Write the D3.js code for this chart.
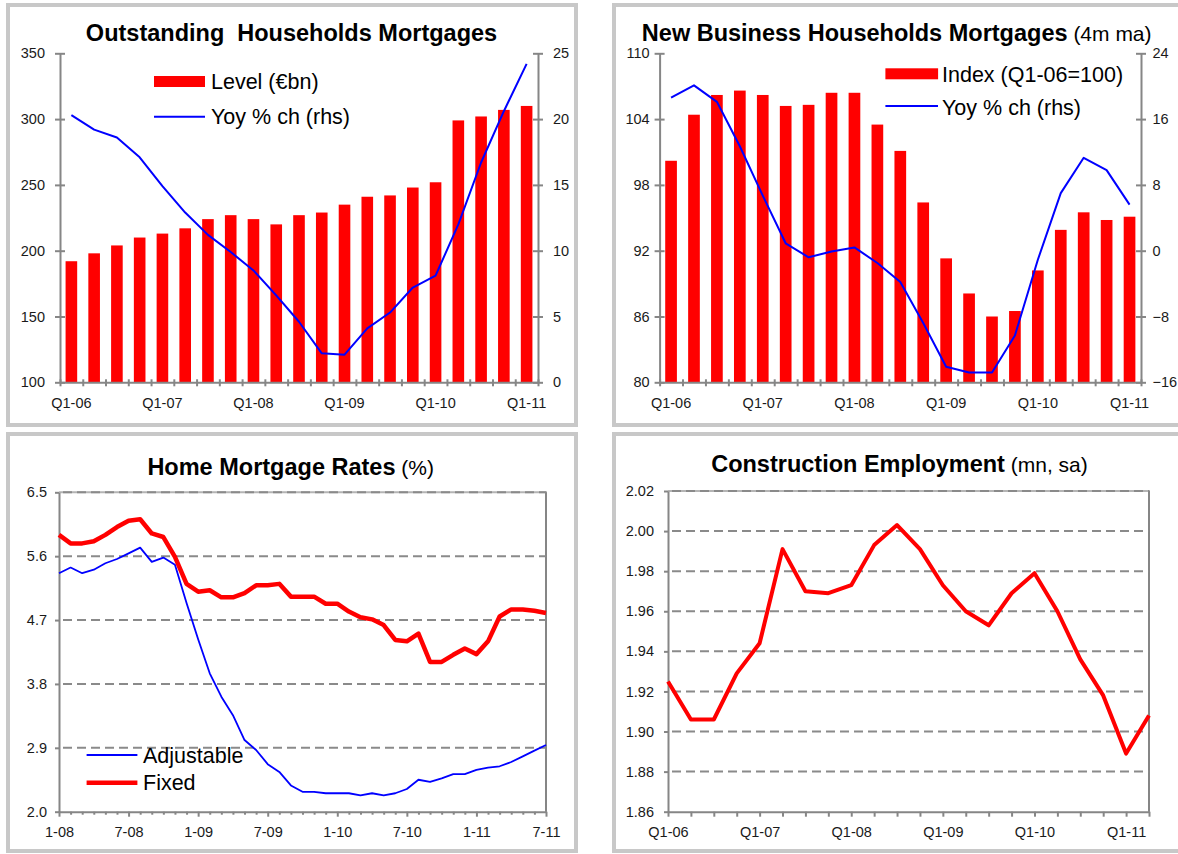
<!DOCTYPE html>
<html>
<head>
<meta charset="utf-8">
<script src="https://cdn.jsdelivr.net/npm/d3@7"></script>
<style>
  html, body { margin: 0; padding: 0; background: #fff; }
  svg { display: block; font-family: "Liberation Sans", Arial, sans-serif; }
  .tick text { fill: #1a1a1a; font-size: 14.5px; }
</style>
</head>
<body>
<svg id="chart" width="1178" height="854"></svg>
<script>
// ---- data ----
const quarters = ["Q1-06","Q2-06","Q3-06","Q4-06","Q1-07","Q2-07","Q3-07","Q4-07",
  "Q1-08","Q2-08","Q3-08","Q4-08","Q1-09","Q2-09","Q3-09","Q4-09",
  "Q1-10","Q2-10","Q3-10","Q4-10","Q1-11"];
const quarterLabels = ["Q1-06","Q1-07","Q1-08","Q1-09","Q1-10","Q1-11"];

// Outstanding households mortgages
const outstandingLevel = [192, 198, 204, 210, 213, 217, 224, 227, 224, 220, 227,
  229, 235, 241, 242, 248, 252, 299, 302, 307, 310];
const outstandingYoy = [20.3, 19.2, 18.6, 17.1, 14.9, 12.9, 11.2, 9.9, 8.5, 6.6, 4.6,
  2.2, 2.1, 4.1, 5.3, 7.2, 8.1, 12.0, 16.7, 20.6, 24.2];
const outstandingLeftTicks = [100, 150, 200, 250, 300, 350];
const outstandingRightTicks = [0, 5, 10, 15, 20, 25];

// New business households mortgages (4m ma)
const newBizIndex = [100.2, 104.4, 106.2, 106.6, 106.2, 105.2, 105.3, 106.4, 106.4,
  103.5, 101.1, 96.4, 91.3, 88.1, 86.0, 86.5, 90.2, 93.9, 95.5, 94.8, 95.1];
const newBizYoy = [18.6, 20.1, 18.1, 12.7, 6.7, 0.9, -0.8, -0.1, 0.4, -1.5, -3.8,
  -8.8, -14.1, -14.8, -14.8, -10.3, -1.1, 7.0, 11.3, 9.8, 5.6];
const newBizLeftTicks = [80, 86, 92, 98, 104, 110];
const newBizRightTicks = [-16, -8, 0, 8, 16, 24];

// Home mortgage rates (%), monthly
const months = ["1-08","2-08","3-08","4-08","5-08","6-08","7-08","8-08","9-08","10-08","11-08","12-08",
  "1-09","2-09","3-09","4-09","5-09","6-09","7-09","8-09","9-09","10-09","11-09","12-09",
  "1-10","2-10","3-10","4-10","5-10","6-10","7-10","8-10","9-10","10-10","11-10","12-10",
  "1-11","2-11","3-11","4-11","5-11","6-11","7-11"];
const monthLabels = ["1-08","7-08","1-09","7-09","1-10","7-10","1-11","7-11"];
const adjustableRate = [5.36, 5.44, 5.36, 5.41, 5.50, 5.56, 5.64, 5.72, 5.52, 5.58,
  5.48, 4.94, 4.43, 3.95, 3.62, 3.36, 3.01, 2.87, 2.67, 2.56,
  2.37, 2.28, 2.28, 2.26, 2.26, 2.26, 2.23, 2.26, 2.23, 2.26,
  2.32, 2.45, 2.42, 2.47, 2.53, 2.53, 2.59, 2.62, 2.64, 2.70,
  2.78, 2.86, 2.94];
const fixedRate = [5.90, 5.78, 5.78, 5.81, 5.90, 6.01, 6.10, 6.12, 5.92, 5.87,
  5.59, 5.21, 5.10, 5.12, 5.02, 5.02, 5.08, 5.19, 5.19, 5.21,
  5.03, 5.03, 5.03, 4.93, 4.93, 4.82, 4.74, 4.71, 4.63, 4.42,
  4.40, 4.51, 4.11, 4.11, 4.21, 4.30, 4.22, 4.40, 4.75, 4.85,
  4.85, 4.83, 4.80];
const rateTicks = [2.0, 2.9, 3.8, 4.7, 5.6, 6.5];

// Construction employment (mn, sa), quarterly
const constrQuarters = ["Q1-06","Q2-06","Q3-06","Q4-06","Q1-07","Q2-07","Q3-07","Q4-07",
  "Q1-08","Q2-08","Q3-08","Q4-08","Q1-09","Q2-09","Q3-09","Q4-09",
  "Q1-10","Q2-10","Q3-10","Q4-10","Q1-11","Q2-11"];
const employment = [1.925, 1.906, 1.906, 1.929, 1.944, 1.991, 1.970, 1.969, 1.973,
  1.993, 2.003, 1.991, 1.973, 1.960, 1.953, 1.969, 1.979, 1.960, 1.936, 1.918,
  1.889, 1.908];
const employmentTicks = [1.86, 1.88, 1.90, 1.92, 1.94, 1.96, 1.98, 2.00, 2.02];

// ---- drawing ----
const RED = "#ff0000", BLUE = "#0000ff", AXIS = "#868686", GRID = "#8a8a8a";
const TITLE_SIZE = 23.5, SUBTITLE_SIZE = 21, LEGEND_SIZE = 21.5;
const svg = d3.select("#chart");

function frame(x, y, w, h) {
  svg.append("rect").attr("x", x).attr("y", y).attr("width", w).attr("height", h)
    .attr("fill", "#fff").attr("stroke", "#c8c8c8").attr("stroke-width", 4);
}

function title(cx, y, bold, normal) {
  const t = svg.append("text").attr("x", cx).attr("y", y)
    .attr("text-anchor", "middle").attr("fill", "#000")
    .style("white-space", "pre");
  t.append("tspan").attr("font-weight", "bold").attr("font-size", TITLE_SIZE).text(bold);
  if (normal) t.append("tspan").attr("font-size", SUBTITLE_SIZE).text(" " + normal);
}

function styleAxis(g) {
  g.select(".domain").attr("stroke", AXIS).attr("stroke-width", 2);
  g.selectAll(".tick line").attr("stroke", AXIS).attr("stroke-width", 2);
}

function legendText(x, y, txt) {
  svg.append("text").attr("x", x).attr("y", y).attr("font-size", LEGEND_SIZE)
    .attr("fill", "#000").style("white-space", "pre").text(txt);
}

// Bar + line panel with a left (bars) and right (line) axis
function barLinePanel(opt) {
  const { x0, x1, yTop, yBot } = opt;
  const xBand = d3.scaleBand().domain(quarters).range([x0, x1])
    .paddingInner(0.49).paddingOuter(0.245);
  const xEdge = d3.scaleLinear().domain([0, quarters.length]).range([x0, x1]);
  const yL = d3.scaleLinear().domain(opt.leftDomain).range([yBot, yTop]);
  const yR = d3.scaleLinear().domain(opt.rightDomain).range([yBot, yTop]);

  svg.append("g").selectAll("rect").data(opt.bars).join("rect")
    .attr("x", (d, i) => xBand(quarters[i]))
    .attr("y", d => yL(d))
    .attr("width", xBand.bandwidth())
    .attr("height", d => yBot - yL(d))
    .attr("fill", RED);

  const line = d3.line()
    .x((d, i) => xBand(quarters[i]) + xBand.bandwidth() / 2)
    .y(d => yR(d));
  svg.append("path").datum(opt.line).attr("d", line)
    .attr("fill", "none").attr("stroke", BLUE).attr("stroke-width", 2)
    .attr("stroke-linejoin", "round");

  // left axis
  const gl = svg.append("g").attr("transform", `translate(${x0},0)`)
    .call(d3.axisLeft(yL).tickValues(opt.leftTicks).tickSizeInner(5).tickSizeOuter(0)
      .tickPadding(opt.leftPad));
  styleAxis(gl);
  gl.selectAll(".tick line").attr("x1", 5);
  // right axis
  const gr = svg.append("g").attr("transform", `translate(${x1},0)`)
    .call(d3.axisRight(yR).tickValues(opt.rightTicks).tickSizeInner(5).tickSizeOuter(0)
      .tickPadding(opt.rightPad));
  styleAxis(gr);
  gr.selectAll(".tick line").attr("x1", -5);
  // bottom axis: tick marks between categories
  const gb = svg.append("g").attr("transform", `translate(0,${yBot})`)
    .call(d3.axisBottom(xEdge).tickValues(d3.range(quarters.length + 1))
      .tickFormat("").tickSizeInner(4).tickSizeOuter(0));
  styleAxis(gb);
  gb.selectAll(".tick line").attr("y1", -3);
  // bottom labels
  const gx = svg.append("g").attr("transform", `translate(0,${yBot})`)
    .call(d3.axisBottom(xBand).tickValues(quarterLabels).tickSize(0).tickPadding(15));
  gx.select(".domain").remove();
}

// Panel 1
frame(8, 5, 568, 420);
title(291.5, 40.5, "Outstanding  Households Mortgages");
barLinePanel({
  x0: 60, x1: 538, yTop: 53.3, yBot: 382.3,
  leftDomain: [100, 350], rightDomain: [0, 25],
  leftTicks: outstandingLeftTicks, rightTicks: outstandingRightTicks,
  bars: outstandingLevel, line: outstandingYoy, leftPad: 10, rightPad: 10
});
svg.append("rect").attr("x", 154).attr("y", 76).attr("width", 51).attr("height", 11).attr("fill", RED);
legendText(211, 88.5, "Level (€bn)");
svg.append("line").attr("x1", 154).attr("x2", 205).attr("y1", 116.7).attr("y2", 116.7)
  .attr("stroke", BLUE).attr("stroke-width", 2);
legendText(211, 123.5, "Yoy % ch (rhs)");

// Panel 2
frame(614, 5, 600, 420);
title(896.7, 40.5, "New Business Households Mortgages", "(4m ma)");
barLinePanel({
  x0: 659.6, x1: 1141, yTop: 53.3, yBot: 382.3,
  leftDomain: [80, 110], rightDomain: [-16, 24],
  leftTicks: newBizLeftTicks, rightTicks: newBizRightTicks,
  bars: newBizIndex, line: newBizYoy, leftPad: 5, rightPad: 6.5
});
svg.append("rect").attr("x", 885.4).attr("y", 68.3).attr("width", 52.7).attr("height", 11).attr("fill", RED);
legendText(942, 81.7, "Index (Q1-06=100)");
svg.append("line").attr("x1", 885.4).attr("x2", 938).attr("y1", 106).attr("y2", 106)
  .attr("stroke", BLUE).attr("stroke-width", 2);
legendText(942, 114.5, "Yoy % ch (rhs)");

// Line panel with dashed horizontal gridlines
function linePanel(opt) {
  const { x0, x1, yTop, yBot } = opt;
  const x = d3.scalePoint().domain(opt.categories).range([x0, x1]);
  const y = d3.scaleLinear().domain(opt.yDomain).range([yBot, yTop]);

  // plot frame (top and right)
  svg.append("path").attr("d", `M${x0},${yTop}H${x1}V${yBot}`)
    .attr("fill", "none").attr("stroke", "#b4b4b4").attr("stroke-width", 2);
  svg.append("line").attr("x1", x1).attr("x2", x1).attr("y1", yTop).attr("y2", yBot)
    .attr("stroke", AXIS).attr("stroke-width", 2);
  // gridlines
  svg.append("g").selectAll("line").data(opt.yTicks.slice(1)).join("line")
    .attr("x1", x0 + 4).attr("x2", x1).attr("y1", d => y(d)).attr("y2", d => y(d))
    .attr("stroke", GRID).attr("stroke-width", 2).attr("stroke-dasharray", "9,5");

  const gl = svg.append("g").attr("transform", `translate(${x0},0)`)
    .call(d3.axisLeft(y).tickValues(opt.yTicks).tickFormat(d3.format(opt.fmt))
      .tickSizeInner(4).tickSizeOuter(0).tickPadding(opt.leftPad));
  styleAxis(gl);

  const gb = svg.append("g").attr("transform", `translate(0,${yBot})`)
    .call(d3.axisBottom(x).tickValues(opt.categories)
      .tickFormat(d => opt.labels.includes(d) ? d : "")
      .tickSizeInner(5).tickSizeOuter(0).tickPadding(10));
  styleAxis(gb);
  if (opt.minorShort) {
    gb.selectAll(".tick line").attr("y2", d => opt.labels.includes(d) ? 5 : 3);
  }

  opt.series.forEach(s => {
    const line = d3.line().x((d, i) => x(opt.categories[i])).y(d => y(d));
    svg.append("path").datum(s.values).attr("d", line)
      .attr("fill", "none").attr("stroke", s.color).attr("stroke-width", s.width)
      .attr("stroke-linejoin", "round");
  });
}

// Panel 3
frame(8, 434, 568, 417);
title(290.7, 475, "Home Mortgage Rates", "(%)");
linePanel({
  x0: 59, x1: 546, yTop: 492.3, yBot: 811.7,
  categories: months, labels: monthLabels, yDomain: [2.0, 6.5], yTicks: rateTicks,
  fmt: ".1f", leftPad: 8, minorShort: true,
  series: [
    { values: adjustableRate, color: BLUE, width: 1.8 },
    { values: fixedRate, color: RED, width: 4.5 }
  ]
});
svg.append("line").attr("x1", 86.6).attr("x2", 137.4).attr("y1", 755).attr("y2", 755)
  .attr("stroke", BLUE).attr("stroke-width", 2);
legendText(143, 762.5, "Adjustable");
svg.append("line").attr("x1", 86.6).attr("x2", 137.4).attr("y1", 782.7).attr("y2", 782.7)
  .attr("stroke", RED).attr("stroke-width", 4.5);
legendText(143, 790, "Fixed");

// Panel 4
frame(614, 434, 600, 417);
title(899.5, 472, "Construction Employment", "(mn, sa)");
linePanel({
  x0: 668, x1: 1149, yTop: 491, yBot: 811.7,
  categories: constrQuarters, labels: quarterLabels, yDomain: [1.86, 2.02],
  yTicks: employmentTicks, fmt: ".2f", leftPad: 10, minorShort: false,
  series: [{ values: employment, color: RED, width: 4 }]
});
</script>
</body>
</html>
